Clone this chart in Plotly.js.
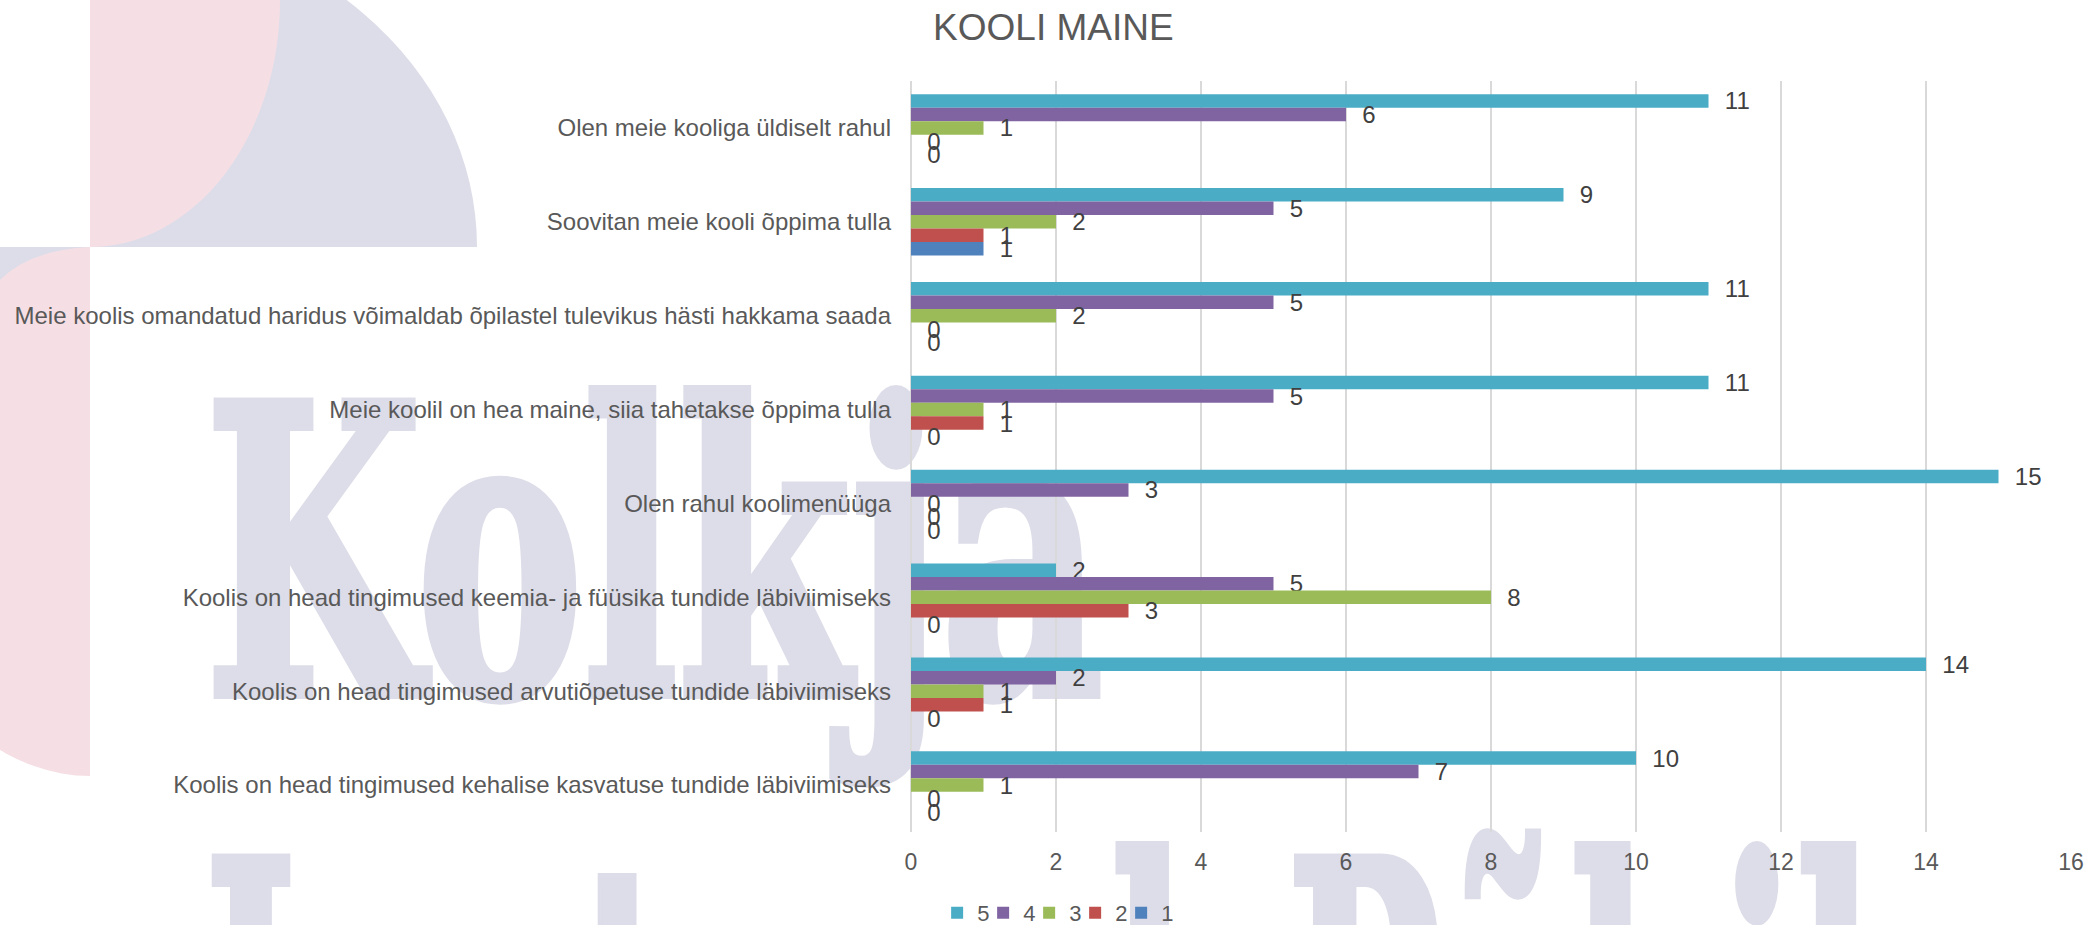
<!DOCTYPE html>
<html>
<head>
<meta charset="utf-8">
<script src="https://cdn.plot.ly/plotly-3.0.1.min.js"></script>
<style>
html,body{margin:0;padding:0;background:#fff;}
#wrap{position:relative;width:2090px;height:925px;overflow:hidden;background:#fff;}
#bg{position:absolute;left:0;top:0;}
#chart{position:absolute;left:0;top:0;width:2090px;height:925px;}
</style>
</head>
<body>
<div id="wrap">
<svg id="bg" width="2090" height="925" viewBox="0 0 2090 925" xmlns="http://www.w3.org/2000/svg">
  <path d="M90,247 L477,247 A387,330 0 0,0 90,-83 Z" fill="#dddde9"/>
  <path d="M90,0 L280,0 A190,247 0 0,1 90,247 Z" fill="#f6dfe4"/>
  <path d="M90,247 L90,776 A291,529 0 0,1 -201,247 Z" fill="#f6dfe4"/>
  <path d="M0,247 L90,247 Q30,250 0,280 Z" fill="#dddde9"/>
  <g font-family="DejaVu Serif" font-weight="bold" font-size="400" fill="#dddde9" stroke="#dddde9" stroke-width="10" stroke-linejoin="miter">
    <text x="205" y="694" textLength="898" lengthAdjust="spacingAndGlyphs">Kolkja</text>
    <text x="205" y="1150" textLength="1062" lengthAdjust="spacingAndGlyphs">Lasteaed-</text>
    <text x="1287" y="1150" textLength="1000" lengthAdjust="spacingAndGlyphs">Põhikool</text>
  </g>
</svg>
<div id="chart"></div>
</div>
<script>
// Categories (top to bottom as shown)
const categories = [
  "Olen meie kooliga üldiselt rahul",
  "Soovitan meie kooli õppima tulla",
  "Meie koolis omandatud haridus võimaldab õpilastel tulevikus hästi hakkama saada",
  "Meie koolil on hea maine, siia tahetakse õppima tulla",
  "Olen rahul koolimenüüga",
  "Koolis on head tingimused keemia- ja füüsika tundide läbiviimiseks",
  "Koolis on head tingimused arvutiõpetuse tundide läbiviimiseks",
  "Koolis on head tingimused kehalise kasvatuse tundide läbiviimiseks"
];
const seriesNames = ["5", "4", "3", "2", "1"];
const s5 = [11, 9, 11, 11, 15, 2, 14, 10];
const s4 = [6, 5, 5, 5, 3, 5, 2, 7];
const s3 = [1, 2, 2, 1, 0, 8, 1, 1];
const s2 = [0, 1, 0, 1, 0, 3, 1, 0];
const s1 = [0, 1, 0, 0, 0, 0, 0, 0];
const seriesValues = [s5, s4, s3, s2, s1];
const seriesColors = ["#4bacc6", "#8064a2", "#9bbb59", "#c0504d", "#4f81bd"];
const xTicks = [0, 2, 4, 6, 8, 10, 12, 14, 16];

const FONT = "Liberation Sans, Arial, Helvetica, sans-serif";

const traces = seriesValues.map((vals, i) => ({
  type: "bar",
  orientation: "h",
  name: seriesNames[i],
  x: vals,
  y: categories,
  text: vals.map(v => String(v)),
  texttemplate: "\u00a0\u00a0%{text}",
  textposition: "outside",
  constraintext: "none",
  cliponaxis: false,
  textangle: 0,
  outsidetextfont: {family: FONT, size: 24, color: "#404040"},
  marker: {color: seriesColors[i]},
  legendwidth: i === seriesValues.length - 1 ? 16 : 1,
  hoverinfo: "skip"
}));

const layout = {
  width: 2090,
  height: 925,
  margin: {l: 911, r: 19, t: 81, b: 93, pad: 0},
  paper_bgcolor: "rgba(0,0,0,0)",
  plot_bgcolor: "rgba(0,0,0,0)",
  font: {family: FONT, color: "#595959"},
  barmode: "group",
  bargap: 0.28,
  bargroupgap: 0,
  showlegend: true,
  title: {
    text: "KOOLI MAINE",
    font: {family: FONT, size: 37, color: "#595959"},
    xref: "container", x: 0.504, xanchor: "center",
    yref: "container", y: 1 - 27 / 925, yanchor: "middle"
  },
  xaxis: {
    range: [0, 16],
    tickvals: xTicks,
    ticktext: xTicks.map(String),
    showgrid: true,
    gridcolor: "#d9d9d9",
    gridwidth: 2,
    zeroline: true,
    zerolinecolor: "#d9d9d9",
    zerolinewidth: 2,
    showline: false,
    ticks: "",
    ticklabelstandoff: 14,
    tickfont: {family: FONT, size: 23, color: "#595959"},
    fixedrange: true
  },
  yaxis: {
    type: "category",
    autorange: "reversed",
    showgrid: false,
    zeroline: false,
    showline: false,
    ticks: "",
    ticklabelstandoff: 19,
    tickfont: {family: FONT, size: 24, color: "#595959"},
    fixedrange: true
  },
  legend: {
    orientation: "h",
    xref: "container", x: 0.507, xanchor: "center",
    yref: "container", y: 1 - 913 / 925, yanchor: "middle",
    font: {family: FONT, size: 22, color: "#595959"},
    bgcolor: "rgba(0,0,0,0)",
    itemwidth: 30,
    entrywidthmode: "pixels",
    traceorder: "normal"
  }
};

Plotly.newPlot("chart", traces, layout, {staticPlot: true, displayModeBar: false});
</script>
</body>
</html>
